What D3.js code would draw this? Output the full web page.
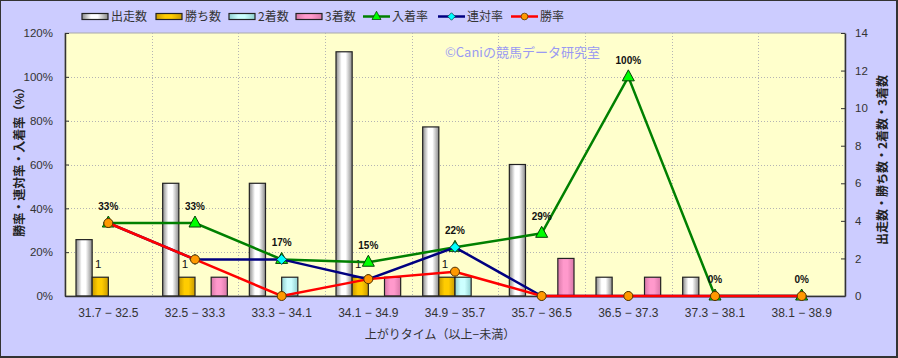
<!DOCTYPE html>
<html><head><meta charset="utf-8">
<script src="https://cdn.jsdelivr.net/npm/d3@7"></script>
<style>body{margin:0;background:#333}svg{display:block}</style>
</head><body><svg id="c" width="898" height="358"></svg>
<script>
const categories = ["31.7 − 32.5","32.5 − 33.3","33.3 − 34.1","34.1 − 34.9","34.9 − 35.7","35.7 − 36.5","36.5 − 37.3","37.3 − 38.1","38.1 − 38.9"];
const starts  = [3,6,6,13,9,7,1,1,0];
const wins    = [1,1,0,1,1,0,0,0,0];
const seconds = [0,0,1,0,1,0,0,0,0];
const thirds  = [0,1,0,1,0,2,1,0,0];
const placeRate  = [33.3,33.3,16.7,15.4,22.2,28.6,100,0,0];
const rentaiRate = [33.3,16.7,16.7,7.7,22.2,0,0,0,0];
const winRate    = [33.3,16.7,0,7.7,11.1,0,0,0,0];
const placeLabels = ["33%","33%","17%","15%","22%","29%","100%","0%","0%"];
const leftTicks  = [0,20,40,60,80,100,120];
const rightTicks = [0,2,4,6,8,10,12,14];
const barSeries = ["出走数","勝ち数","2着数","3着数"];
const lineSeries = ["入着率","連対率","勝率"];

const svg = d3.select("#c");
const L=65,R=845,T=33,B=296;
const FONT = "'Liberation Sans', Arial, sans-serif";
const JP = "'Noto Sans CJK JP', sans-serif";

svg.append("rect").attr("x",1).attr("y",1).attr("width",895).attr("height",355).attr("fill","#ccccff");

// gradients
const defs = svg.append("defs");
function grad(id, edge, mid){
  const g = defs.append("linearGradient").attr("id",id).attr("x1","0%").attr("x2","100%").attr("y1","0%").attr("y2","0%");
  g.append("stop").attr("offset","0%").attr("stop-color",edge);
  g.append("stop").attr("offset","35%").attr("stop-color",mid);
  g.append("stop").attr("offset","60%").attr("stop-color",mid);
  g.append("stop").attr("offset","100%").attr("stop-color",edge);
}
grad("g0","#8a8a8a","#ffffff");
grad("g1","#c99a00","#ffcc00");
grad("g2","#8fcfcf","#ccffff");
grad("g3","#d878a8","#ff99cc");
const fills = ["url(#g0)","url(#g1)","url(#g2)","url(#g3)"];

const x0 = d3.scaleBand().domain(categories).range([L,R]).padding(0);
const gw = x0.bandwidth();
const x1 = d3.scaleBand().domain(barSeries).range([11, gw-11]).padding(0);
const yL = d3.scaleLinear().domain([0,120]).range([B,T]);
const yR = d3.scaleLinear().domain([0,14]).range([B,T]);

// plot area
svg.append("rect").attr("x",L).attr("y",T).attr("width",R-L).attr("height",B-T).attr("fill","#ffffcc").attr("stroke","#aaa");

// grid
const grid = svg.append("g").attr("stroke","#b4b4b4").attr("stroke-dasharray","1,2").attr("stroke-width",1);
leftTicks.filter(d=>d>0&&d<120).forEach(d=>{
  grid.append("line").attr("x1",L).attr("x2",R).attr("y1",Math.round(yL(d))+0.5).attr("y2",Math.round(yL(d))+0.5);
});
categories.slice(1).forEach(c=>{
  const xx = Math.round(x0(c))+0.5;
  grid.append("line").attr("x1",xx).attr("x2",xx).attr("y1",T).attr("y2",B);
});

// bars
const barData = [starts,wins,seconds,thirds];
const bars = svg.append("g");
categories.forEach((c,i)=>{
  barSeries.forEach((s,k)=>{
    const v = barData[k][i];
    if(v<=0) return;
    bars.append("rect")
      .attr("x", x0(c)+x1(s)).attr("width", x1.bandwidth())
      .attr("y", yR(v)).attr("height", yR(0)-yR(v))
      .attr("fill", fills[k]).attr("stroke","#222").attr("stroke-width",1.2);
  });
});
// win count labels
categories.forEach((c,i)=>{
  if(wins[i]>0){
    svg.append("text").attr("x", x0(c)+x1("勝ち数")+x1.bandwidth()/2-2).attr("y", yR(wins[i])-9)
      .attr("text-anchor","middle").attr("font-family",FONT).attr("font-size",11.5).attr("fill","#111")
      .text(wins[i]);
  }
});

// axes
const axL = svg.append("g").attr("transform",`translate(${L},0)`)
  .call(d3.axisLeft(yL).tickValues(leftTicks).tickFormat(d=>d+"%").tickSizeInner(-4).tickSizeOuter(0).tickPadding(12));
const axR = svg.append("g").attr("transform",`translate(${R},0)`)
  .call(d3.axisRight(yR).tickValues(rightTicks).tickSizeInner(-4).tickSizeOuter(0).tickPadding(10));
const axB = svg.append("g").attr("transform",`translate(0,${B})`)
  .call(d3.axisBottom(x0).tickSize(0).tickPadding(12));
[axL,axR,axB].forEach(a=>{
  a.selectAll("path.domain").attr("stroke","#333").attr("stroke-width",1.5);
  a.selectAll(".tick line").attr("stroke","#333");
  a.selectAll("text").attr("font-family",FONT).attr("font-size",a===axB?12:11.5).attr("fill","#333");
});

// lines
const cx = c=>x0(c)+gw/2;
const lineGen = d3.line().x((d,i)=>cx(categories[i])).y(d=>yL(d));
function triangle(g,x,y){ g.append("path").attr("d",`M${x},${y-7}L${x+6},${y+4}L${x-6},${y+4}Z`).attr("fill","#00ff00").attr("stroke","#064006").attr("stroke-width",1); }
function diamond(g,x,y){ g.append("path").attr("d",`M${x},${y-5}L${x+5},${y}L${x},${y+5}L${x-5},${y}Z`).attr("fill","#00ffff").attr("stroke","#064040").attr("stroke-width",1); }
function circle(g,x,y){ g.append("circle").attr("cx",x).attr("cy",y).attr("r",4.5).attr("fill","#ff9900").attr("stroke","#553300").attr("stroke-width",1); }
const lineDefs = [
  {vals:placeRate, color:"#008000", marker:triangle},
  {vals:rentaiRate, color:"#000080", marker:diamond},
  {vals:winRate, color:"#ff0000", marker:circle}
];
lineDefs.forEach(ld=>{
  const g = svg.append("g");
  g.append("path").attr("d",lineGen(ld.vals)).attr("fill","none").attr("stroke",ld.color).attr("stroke-width",2.5);
  ld.vals.forEach((v,i)=>ld.marker(g, cx(categories[i]), yL(v)));
});
// place rate labels
placeRate.forEach((v,i)=>{
  svg.append("text").attr("x",cx(categories[i])).attr("y",yL(v)-13).attr("text-anchor","middle")
    .attr("font-family",FONT).attr("font-weight","bold").attr("font-size",10).attr("fill","#111").text(placeLabels[i]);
});

// watermark
svg.append("text").attr("x",445).attr("y",57).attr("font-family",JP).attr("font-size",13).attr("fill","#9a9af2").text("©Caniの競馬データ研究室");

// axis titles
svg.append("text").attr("transform","translate(24,159) rotate(-90)").attr("text-anchor","middle")
  .attr("font-family",JP).attr("font-weight","bold").attr("font-size",12).attr("fill","#222").text("勝率・連対率・入着率（%）");
svg.append("text").attr("transform","translate(887,160) rotate(-90)").attr("text-anchor","middle")
  .attr("font-family",JP).attr("font-weight","bold").attr("font-size",12).attr("fill","#222").text("出走数・勝ち数・2着数・3着数");
svg.append("text").attr("x",440).attr("y",339).attr("text-anchor","middle")
  .attr("font-family",JP).attr("font-size",12).attr("fill","#333").text("上がりタイム（以上−未満）");

// legend
const leg = svg.append("g");
const barLegX = [82,156,229,296];
barSeries.forEach((s,k)=>{
  leg.append("rect").attr("x",barLegX[k]).attr("y",13.5).attr("width",26).attr("height",6).attr("fill",fills[k]).attr("stroke","#222").attr("stroke-width",1.2);
  leg.append("text").attr("x",barLegX[k]+29).attr("y",21).attr("font-family",JP).attr("font-size",12).attr("fill","#333").text(s);
});
const lineLegX = [363,438,511];
lineSeries.forEach((s,k)=>{
  const ld = lineDefs[k];
  leg.append("line").attr("x1",lineLegX[k]).attr("x2",lineLegX[k]+27).attr("y1",16.5).attr("y2",16.5).attr("stroke",ld.color).attr("stroke-width",2.5);
  const g = leg.append("g").attr("transform",`translate(${lineLegX[k]+13.5},16.5) scale(0.75)`);
  ld.marker(g,0,0);
  leg.append("text").attr("x",lineLegX[k]+29).attr("y",21).attr("font-family",JP).attr("font-size",12).attr("fill","#333").text(s);
});
</script></body></html>
